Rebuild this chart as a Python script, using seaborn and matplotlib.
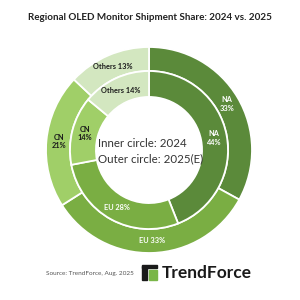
import matplotlib
matplotlib.use("Agg")
import matplotlib.pyplot as plt
import matplotlib.patches as mpatches
import seaborn as sns
import numpy as np

# Data
regions = ["NA", "EU", "CN", "Others"]
share_2025 = [33, 33, 21, 13]   # outer ring
share_2024 = [44, 28, 14, 14]   # inner ring
colors = ["#5b8a3a", "#7aae43", "#a0cf68", "#d3e7c0"]
label_colors = ["white", "white", "#1a1a1a", "#1a1a1a"]
title = "Regional OLED Monitor Shipment Share: 2024 vs. 2025"
source = "Source: TrendForce, Aug. 2025"

sns.set_theme(style="white")
plt.rcParams["font.family"] = ["Lato", "DejaVu Sans"]

fig = plt.figure(figsize=(3, 3), dpi=100)
fig.patch.set_facecolor("white")
ax = fig.add_axes([46 / 300, 47 / 300, 206 / 300, 206 / 300])

outer_w = 0.233
inner_r = 0.767
inner_w = 0.252

w_out, _ = ax.pie(share_2025, radius=1.0, colors=colors, startangle=90, counterclock=False,
                  wedgeprops=dict(width=outer_w, edgecolor="white", linewidth=1.3))
w_in, _ = ax.pie(share_2024, radius=inner_r, colors=colors, startangle=90, counterclock=False,
                 wedgeprops=dict(width=inner_w, edgecolor="white", linewidth=1.3))
ax.set_xlim(-1, 1)
ax.set_ylim(-1, 1)
ax.set_aspect("equal")
ax.axis("off")


def place(wedges, vals, r, two_line_set):
    for w, reg, v, lc in zip(wedges, regions, vals, label_colors):
        ang = np.deg2rad((w.theta1 + w.theta2) / 2)
        x, y = r * np.cos(ang), r * np.sin(ang)
        txt = f"{reg}\n{v}%" if reg in two_line_set else f"{reg} {v}%"
        ax.text(x, y, txt, ha="center", va="center", fontsize=5.3, fontweight="bold",
                color=lc, linespacing=1.3)


place(w_out, share_2025, 1.0 - outer_w / 2 - 0.005, {"NA", "CN"})
place(w_in, share_2024, inner_r - inner_w / 2, {"NA", "CN"})

ax.text(-0.5, 0.06, "Inner circle: 2024", ha="left", va="center", fontsize=8.3, color="#333333")
ax.text(-0.5, -0.09, "Outer circle: 2025(E)", ha="left", va="center", fontsize=8.3, color="#333333")

fig.text(0.5, 0.943, title, ha="center", va="center", fontsize=7.1, fontweight="bold", color="#222222")
fig.text(0.30, 0.09, source, ha="center", va="center", fontsize=4.6, color="#555555")

# TrendForce logo
fig.patches.append(mpatches.Rectangle((142 / 300, 1 - 280 / 300), 5 / 300, 14 / 300,
                                      transform=fig.transFigure, color="#1a1a1a"))
fig.patches.append(mpatches.Rectangle((142 / 300, 1 - 268 / 300), 15 / 300, 3 / 300,
                                      transform=fig.transFigure, color="#1a1a1a"))
fig.patches.append(mpatches.Rectangle((149 / 300, 1 - 280 / 300), 8 / 300, 10 / 300,
                                      transform=fig.transFigure, color="#7ab648"))
fig.text(0.54, 0.09, "TrendForce", ha="left", va="center", fontsize=12.5, fontweight="bold",
         color="#1a1a1a")

fig.savefig("out.png", dpi=100, facecolor="white")
